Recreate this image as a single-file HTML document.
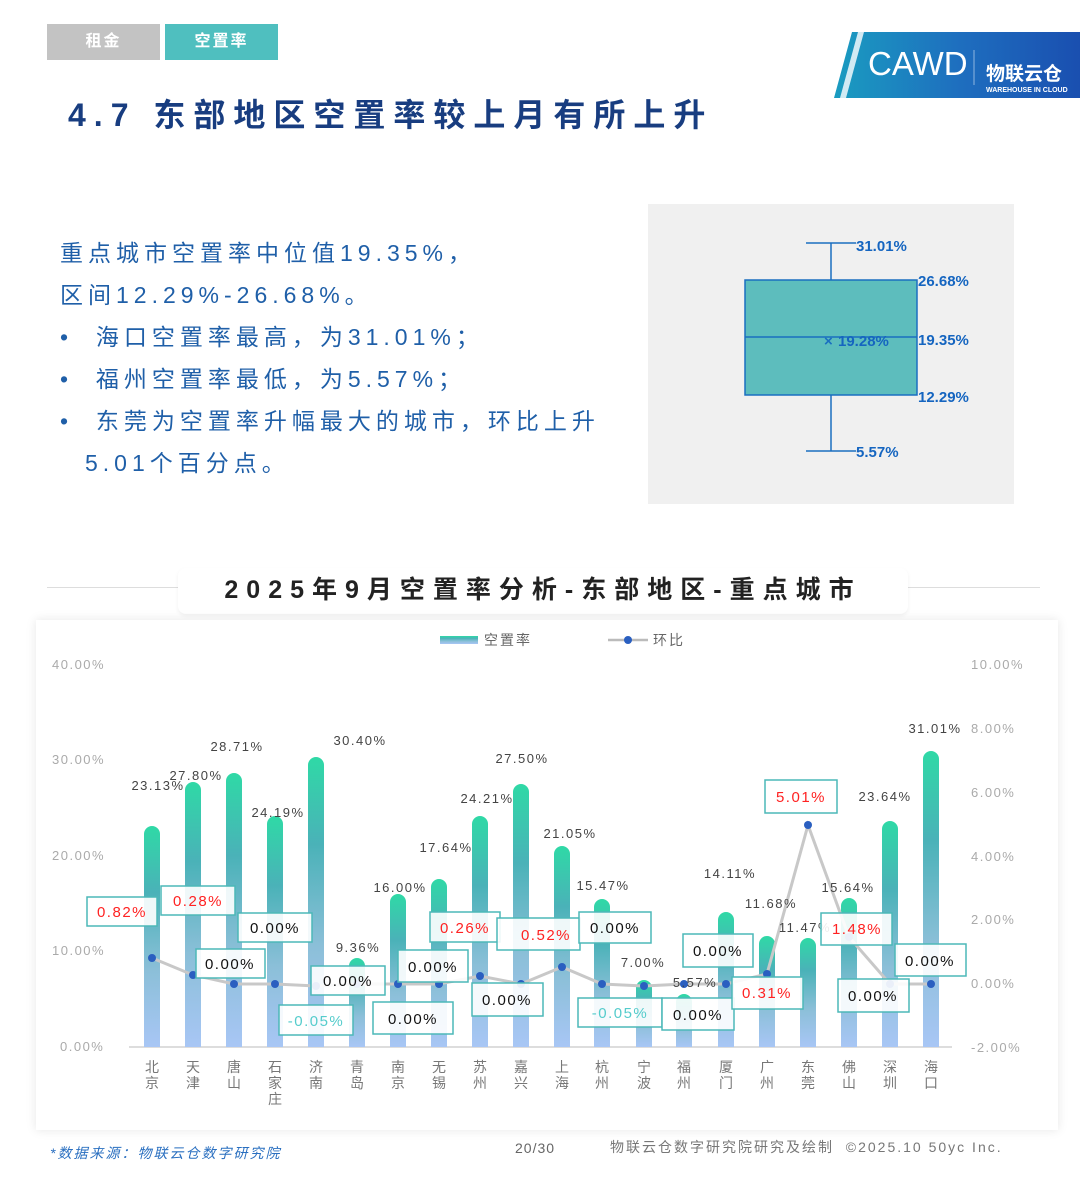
<!DOCTYPE html>
<html><head><meta charset="utf-8">
<style>
html,body{margin:0;padding:0;background:#fff;}
body{width:1080px;height:1200px;position:relative;overflow:hidden;font-family:"Liberation Sans","Noto Sans CJK SC",sans-serif;}
.abs{position:absolute;}
.tab{position:absolute;top:24px;height:36px;width:113px;color:#fff;font-weight:bold;font-size:16px;text-align:center;line-height:36px;letter-spacing:2px;}
.txt{position:absolute;left:60px;color:#1f5fa8;font-size:23px;letter-spacing:5px;white-space:nowrap;}
</style></head><body>
<div class="tab" style="left:47px;background:#c3c3c3;">租金</div>
<div class="tab" style="left:165px;background:#4fbfbf;">空置率</div>
<div class="abs" style="left:68px;top:90px;font-size:32px;font-weight:bold;color:#183d80;letter-spacing:8px;white-space:nowrap;">4.7 东部地区空置率较上月有所上升</div>

<svg class="abs" style="left:834px;top:30px" width="246" height="70">
<defs><linearGradient id="lg" x1="0" x2="1"><stop offset="0" stop-color="#1a9cc0"/><stop offset="0.5" stop-color="#1e6fbf"/><stop offset="1" stop-color="#1a4fb0"/></linearGradient></defs>
<polygon points="18,2 246,2 246,68 0,68" fill="url(#lg)"/>
<polygon points="24,2 30,2 12,68 6,68" fill="#fff" opacity="0.8"/>
<text x="34" y="45" fill="#fff" font-size="33" font-family="Liberation Sans">CAWD</text>
<line x1="140" y1="20" x2="140" y2="55" stroke="#fff" stroke-opacity="0.5"/>
<text x="152" y="50" fill="#fff" font-size="19" font-weight="bold" font-family="Noto Sans CJK SC">物联云仓</text>
<text x="152" y="62" fill="#fff" font-size="7" font-weight="bold">WAREHOUSE IN CLOUD</text>
</svg>

<div class="txt" style="top:234px;">重点城市空置率中位值19.35%，</div>
<div class="txt" style="top:276px;">区间12.29%-26.68%。</div>
<div class="txt" style="top:318px;">•&nbsp; 海口空置率最高，为31.01%；</div>
<div class="txt" style="top:360px;">•&nbsp; 福州空置率最低，为5.57%；</div>
<div class="txt" style="top:402px;">•&nbsp; 东莞为空置率升幅最大的城市，环比上升</div>
<div class="txt" style="top:444px;left:85px;">5.01个百分点。</div>

<svg class="abs" style="left:648px;top:204px" width="366" height="300">
<rect width="366" height="300" fill="#f0f0f0"/>
<g stroke="#1a6fc0" stroke-width="1.5" fill="none">
<line x1="183" y1="39" x2="183" y2="76"/><line x1="183" y1="191" x2="183" y2="247"/>
<line x1="158" y1="39" x2="208" y2="39"/><line x1="158" y1="247" x2="208" y2="247"/>
</g>
<rect x="97" y="76" width="172" height="115" fill="#5dbdbd" stroke="#1a6fc0" stroke-width="1.5"/>
<line x1="97" y1="133" x2="269" y2="133" stroke="#1a6fc0" stroke-width="1.5"/>
<g fill="#1565c0" font-size="15" font-weight="bold">
<text x="208" y="47">31.01%</text><text x="270" y="82">26.68%</text>
<text x="176" y="142" fill="#1a6fc0">×</text><text x="190" y="142">19.28%</text>
<text x="270" y="141">19.35%</text><text x="270" y="198">12.29%</text><text x="208" y="253">5.57%</text>
</g></svg>

<div class="abs" style="left:47px;top:587px;width:993px;height:1px;background:#ddd;"></div>
<div class="abs" style="left:178px;top:568px;width:730px;height:46px;background:#fff;border-radius:8px;box-shadow:0 2px 4px rgba(0,0,0,0.06);text-align:center;line-height:44px;font-size:25px;font-weight:bold;color:#222;letter-spacing:8px;white-space:nowrap;">2025年9月空置率分析-东部地区-重点城市</div>

<div class="abs" style="left:36px;top:620px;width:1022px;height:510px;background:#fff;box-shadow:0 0 10px rgba(0,0,0,0.1);"></div>
<svg class="abs" style="left:0;top:0" width="1080" height="1200" font-family="Liberation Sans, Noto Sans CJK SC, sans-serif">
<defs><linearGradient id="bg" x1="0" y1="0" x2="0" y2="1"><stop offset="0" stop-color="#2fd9a6"/><stop offset="0.3" stop-color="#4ab2b8"/><stop offset="0.65" stop-color="#8bbfd8"/><stop offset="1" stop-color="#a8c6f5"/></linearGradient></defs>
<rect x="440" y="636" width="38" height="8" fill="url(#bg)"/>
<text x="484" y="645" font-size="14" fill="#666" letter-spacing="2">空置率</text>
<line x1="608" y1="640" x2="648" y2="640" stroke="#bbb" stroke-width="2.5"/><circle cx="628" cy="640" r="4" fill="#2a5fc0"/>
<text x="653" y="645" font-size="14" fill="#666" letter-spacing="2">环比</text>
<g font-size="13" fill="#aaa" letter-spacing="1.5">
<text x="52" y="669">40.00%</text><text x="52" y="764">30.00%</text><text x="52" y="860">20.00%</text><text x="52" y="955">10.00%</text><text x="60" y="1051">0.00%</text>
<text x="971" y="669">10.00%</text><text x="971" y="733">8.00%</text><text x="971" y="797">6.00%</text><text x="971" y="861">4.00%</text><text x="971" y="924">2.00%</text><text x="971" y="988">0.00%</text><text x="971" y="1052">-2.00%</text>
</g>
<line x1="129" y1="1047" x2="952" y2="1047" stroke="#ddd" stroke-width="2"/>
<g fill="url(#bg)">
<path d="M144,1047V834A8,8 0 0 1 160,834V1047Z"/>
<path d="M185,1047V790A8,8 0 0 1 201,790V1047Z"/>
<path d="M226,1047V781A8,8 0 0 1 242,781V1047Z"/>
<path d="M267,1047V824A8,8 0 0 1 283,824V1047Z"/>
<path d="M308,1047V765A8,8 0 0 1 324,765V1047Z"/>
<path d="M349,1047V966A8,8 0 0 1 365,966V1047Z"/>
<path d="M390,1047V902A8,8 0 0 1 406,902V1047Z"/>
<path d="M431,1047V887A8,8 0 0 1 447,887V1047Z"/>
<path d="M472,1047V824A8,8 0 0 1 488,824V1047Z"/>
<path d="M513,1047V792A8,8 0 0 1 529,792V1047Z"/>
<path d="M554,1047V854A8,8 0 0 1 570,854V1047Z"/>
<path d="M594,1047V907A8,8 0 0 1 610,907V1047Z"/>
<path d="M636,1047V988A8,8 0 0 1 652,988V1047Z"/>
<path d="M676,1047V1002A8,8 0 0 1 692,1002V1047Z"/>
<path d="M718,1047V920A8,8 0 0 1 734,920V1047Z"/>
<path d="M759,1047V944A8,8 0 0 1 775,944V1047Z"/>
<path d="M800,1047V946A8,8 0 0 1 816,946V1047Z"/>
<path d="M841,1047V906A8,8 0 0 1 857,906V1047Z"/>
<path d="M882,1047V829A8,8 0 0 1 898,829V1047Z"/>
<path d="M923,1047V759A8,8 0 0 1 939,759V1047Z"/>
</g>
<polyline fill="none" stroke="#c8c8c8" stroke-width="3" points="152,958 193,975 234,984 275,984 316,986 357,984 398,984 439,984 480,976 521,984 562,967 602,984 644,986 684,984 726,984 767,974 808,825 849,937 890,984 931,984"/>
<g fill="#2a5fc0"><circle cx="152" cy="958" r="4"/><circle cx="193" cy="975" r="4"/><circle cx="234" cy="984" r="4"/><circle cx="275" cy="984" r="4"/><circle cx="316" cy="986" r="4"/><circle cx="357" cy="984" r="4"/><circle cx="398" cy="984" r="4"/><circle cx="439" cy="984" r="4"/><circle cx="480" cy="976" r="4"/><circle cx="521" cy="984" r="4"/><circle cx="562" cy="967" r="4"/><circle cx="602" cy="984" r="4"/><circle cx="644" cy="986" r="4"/><circle cx="684" cy="984" r="4"/><circle cx="726" cy="984" r="4"/><circle cx="767" cy="974" r="4"/><circle cx="808" cy="825" r="4"/><circle cx="849" cy="937" r="4"/><circle cx="890" cy="984" r="4"/><circle cx="931" cy="984" r="4"/></g>
<g font-size="13" fill="#444" letter-spacing="1.5" text-anchor="middle">
<text x="158" y="790">23.13%</text><text x="196" y="780">27.80%</text><text x="237" y="751">28.71%</text><text x="278" y="817">24.19%</text><text x="360" y="745">30.40%</text><text x="358" y="952">9.36%</text><text x="400" y="892">16.00%</text><text x="446" y="852">17.64%</text><text x="487" y="803">24.21%</text><text x="522" y="763">27.50%</text><text x="570" y="838">21.05%</text><text x="603" y="890">15.47%</text><text x="643" y="967">7.00%</text><text x="695" y="987">5.57%</text><text x="730" y="878">14.11%</text><text x="771" y="908">11.68%</text><text x="805" y="932">11.47%</text><text x="848" y="892">15.64%</text><text x="885" y="801">23.64%</text><text x="935" y="733">31.01%</text>
</g>
<g stroke="#4cb8b8" stroke-width="1.5" fill="#fff" fill-opacity="0.9">
<rect x="87" y="897" width="70" height="29"/><rect x="161" y="886" width="74" height="29"/><rect x="238" y="913" width="74" height="29"/><rect x="196" y="949" width="69" height="29"/><rect x="311" y="966" width="74" height="29"/><rect x="279" y="1005" width="74" height="30"/><rect x="373" y="1002" width="80" height="32"/><rect x="398" y="950" width="70" height="32"/><rect x="430" y="912" width="70" height="30"/><rect x="497" y="918" width="83" height="32"/><rect x="472" y="983" width="71" height="33"/><rect x="579" y="912" width="72" height="31"/><rect x="578" y="998" width="84" height="29"/><rect x="662" y="998" width="72" height="32"/><rect x="683" y="934" width="70" height="33"/><rect x="732" y="977" width="71" height="32"/><rect x="765" y="780" width="72" height="33"/><rect x="821" y="913" width="71" height="32"/><rect x="838" y="979" width="71" height="33"/><rect x="895" y="944" width="71" height="32"/>
</g>
<g font-size="15" letter-spacing="1.5" text-anchor="middle">
<text x="122" y="917" fill="#f22">0.82%</text><text x="198" y="906" fill="#f22">0.28%</text><text x="275" y="933" fill="#111">0.00%</text><text x="230" y="969" fill="#111">0.00%</text><text x="348" y="986" fill="#111">0.00%</text><text x="316" y="1026" fill="#5cc">-0.05%</text><text x="413" y="1024" fill="#111">0.00%</text><text x="433" y="972" fill="#111">0.00%</text><text x="465" y="933" fill="#f22">0.26%</text><text x="546" y="940" fill="#f22">0.52%</text><text x="507" y="1005" fill="#111">0.00%</text><text x="615" y="933" fill="#111">0.00%</text><text x="620" y="1018" fill="#5cc">-0.05%</text><text x="698" y="1020" fill="#111">0.00%</text><text x="718" y="956" fill="#111">0.00%</text><text x="767" y="998" fill="#f22">0.31%</text><text x="801" y="802" fill="#f22">5.01%</text><text x="857" y="934" fill="#f22">1.48%</text><text x="873" y="1001" fill="#111">0.00%</text><text x="930" y="966" fill="#111">0.00%</text>
</g>
<g font-size="14" fill="#777" text-anchor="middle">
<text x="152" y="1072">北</text><text x="152" y="1088">京</text>
<text x="193" y="1072">天</text><text x="193" y="1088">津</text>
<text x="234" y="1072">唐</text><text x="234" y="1088">山</text>
<text x="275" y="1072">石</text><text x="275" y="1088">家</text><text x="275" y="1104">庄</text>
<text x="316" y="1072">济</text><text x="316" y="1088">南</text>
<text x="357" y="1072">青</text><text x="357" y="1088">岛</text>
<text x="398" y="1072">南</text><text x="398" y="1088">京</text>
<text x="439" y="1072">无</text><text x="439" y="1088">锡</text>
<text x="480" y="1072">苏</text><text x="480" y="1088">州</text>
<text x="521" y="1072">嘉</text><text x="521" y="1088">兴</text>
<text x="562" y="1072">上</text><text x="562" y="1088">海</text>
<text x="602" y="1072">杭</text><text x="602" y="1088">州</text>
<text x="644" y="1072">宁</text><text x="644" y="1088">波</text>
<text x="684" y="1072">福</text><text x="684" y="1088">州</text>
<text x="726" y="1072">厦</text><text x="726" y="1088">门</text>
<text x="767" y="1072">广</text><text x="767" y="1088">州</text>
<text x="808" y="1072">东</text><text x="808" y="1088">莞</text>
<text x="849" y="1072">佛</text><text x="849" y="1088">山</text>
<text x="890" y="1072">深</text><text x="890" y="1088">圳</text>
<text x="931" y="1072">海</text><text x="931" y="1088">口</text>
</g>
</svg>

<div class="abs" style="left:50px;top:1143px;font-size:14px;font-style:italic;color:#2a6fc0;letter-spacing:2px;white-space:nowrap;">*数据来源：物联云仓数字研究院</div>
<div class="abs" style="left:515px;top:1140px;font-size:14px;color:#666;letter-spacing:1px;">20/30</div>
<div class="abs" style="left:610px;top:1137px;font-size:14px;color:#777;letter-spacing:2px;white-space:nowrap;">物联云仓数字研究院研究及绘制&nbsp;&nbsp;©2025.10 50yc Inc.</div>
</body></html>
